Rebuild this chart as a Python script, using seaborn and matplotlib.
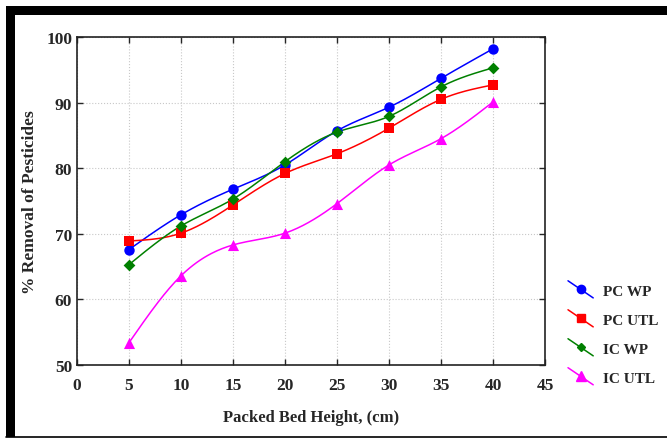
import numpy as np
import pandas as pd
import matplotlib
matplotlib.use("Agg")
import matplotlib.pyplot as plt
from matplotlib.lines import Line2D
from matplotlib.legend_handler import HandlerLine2D
import seaborn as sns

# --- data --------------------------------------------------------------------
height = [5, 10, 15, 20, 25, 30, 35, 40]
pc_wp = [67.6, 72.9, 76.8, 80.5, 85.7, 89.3, 93.7, 98.2]
pc_utl = [68.9, 70.1, 74.4, 79.2, 82.2, 86.1, 90.5, 92.7]
ic_wp = [65.3, 71.2, 75.3, 81.0, 85.5, 87.9, 92.4, 95.3]
ic_utl = [53.4, 63.6, 68.3, 70.1, 74.6, 80.5, 84.5, 90.1]
series_names = ["PC WP", "PC UTL", "IC WP", "IC UTL"]
x_ticks = [0, 5, 10, 15, 20, 25, 30, 35, 40, 45]
y_ticks = [50, 60, 70, 80, 90, 100]

colors = ["#0000ff", "#ff0000", "#008000", "#ff00ff"]
markers = ["o", "s", "D", "^"]
msizes = [7.5, 7.5, 6, 8]


def natural_spline(x, y, n=200):
    # plain natural cubic spline, used only to draw the smooth connecting curve
    x = np.asarray(x, float); y = np.asarray(y, float)
    k = len(x); h = np.diff(x)
    A = np.zeros((k, k)); b = np.zeros(k)
    A[0, 0] = A[-1, -1] = 1
    for i in range(1, k - 1):
        A[i, i - 1] = h[i - 1]; A[i, i] = 2 * (h[i - 1] + h[i]); A[i, i + 1] = h[i]
        b[i] = 6 * ((y[i + 1] - y[i]) / h[i] - (y[i] - y[i - 1]) / h[i - 1])
    M = np.linalg.solve(A, b)
    xs = np.linspace(x[0], x[-1], n)
    idx = np.clip(np.searchsorted(x, xs) - 1, 0, k - 2)
    x0, x1 = x[idx], x[idx + 1]; hh = x1 - x0
    ys = (M[idx] * (x1 - xs) ** 3 + M[idx + 1] * (xs - x0) ** 3) / (6 * hh) \
        + (y[idx] / hh - M[idx] * hh / 6) * (x1 - xs) \
        + (y[idx + 1] / hh - M[idx + 1] * hh / 6) * (xs - x0)
    return xs, ys


class DiagonalHandler(HandlerLine2D):
    def create_artists(self, legend, orig_handle, xdescent, ydescent,
                       width, height, fontsize, trans):
        line = Line2D([0 - xdescent, width - xdescent],
                      [height + 0.3 * height - ydescent, -0.3 * height - ydescent],
                      color=orig_handle.get_color(), lw=orig_handle.get_linewidth())
        mark = Line2D([width / 2 - xdescent], [height / 2 - ydescent],
                      marker=orig_handle.get_marker(), ms=orig_handle.get_markersize(),
                      color=orig_handle.get_color(), ls="none")
        line.set_transform(trans); mark.set_transform(trans)
        return [line, mark]


sns.set_theme(style="ticks")
plt.rcParams["font.family"] = ["Liberation Serif", "DejaVu Serif"]
plt.rcParams["font.weight"] = "bold"

fig = plt.figure(figsize=(6.67, 4.39), dpi=100)
ax = fig.add_axes([77 / 667, 1 - 366 / 439, 468 / 667, 328 / 439])

handles = []
for name, vals, c, m, ms in zip(series_names, [pc_wp, pc_utl, ic_wp, ic_utl],
                                colors, markers, msizes):
    xs, ys = natural_spline(height, vals)
    curve = pd.DataFrame({"x": xs, "y": ys})
    sns.lineplot(data=curve, x="x", y="y", color=c, lw=1.1, ax=ax, sort=False)
    pts = pd.DataFrame({"x": height, "y": vals})
    sns.scatterplot(data=pts, x="x", y="y", color=c, marker=m, s=ms ** 2,
                    edgecolor=c, linewidth=0, ax=ax, zorder=3)
    handles.append(Line2D([], [], color=c, marker=m, ms=ms - 1.5, lw=1.1))

ax.set_xlim(0, 45); ax.set_ylim(50, 100)
ax.set_xticks(x_ticks); ax.set_yticks(y_ticks)
ax.tick_params(direction="in", top=True, right=True, length=4, width=1,
               labelsize=12.5)
ax.tick_params(axis="x", pad=8.5)
ax.tick_params(axis="y", pad=3.5)
for lab in ax.get_xticklabels() + ax.get_yticklabels():
    lab.set_fontweight("bold")
ax.grid(True, ls=":", color="#c8c8c8", lw=0.8)
for s in ax.spines.values():
    s.set_linewidth(1.2); s.set_color("#222222")
ax.set_xlabel("Packed Bed Height, (cm)", fontsize=12, fontweight="bold")
ax.set_ylabel("% Removal of Pesticides", fontsize=12.5, fontweight="bold")
ax.xaxis.set_label_coords(0.5, -(410 - 366) / 328)
ax.yaxis.set_label_coords(-(77 - 38) / 468, 0.5)

leg = fig.legend(handles, series_names, loc="upper left",
                 bbox_to_anchor=(568 / 667, 1 - 285 / 439), frameon=False,
                 fontsize=11, handlelength=1.65, handletextpad=0.65,
                 labelspacing=1.0, borderaxespad=0, borderpad=0,
                 handler_map={Line2D: DiagonalHandler()})
for t in leg.get_texts():
    t.set_fontweight("bold")

# black frame around the figure
fig.add_artist(plt.Rectangle((6 / 667, 1 - 16 / 439), 661 / 667, 9 / 439,
                             transform=fig.transFigure, color="black", lw=0))
fig.add_artist(plt.Rectangle((6 / 667, 1 - 438 / 439), 9 / 667, 422 / 439,
                             transform=fig.transFigure, color="black", lw=0))
fig.add_artist(Line2D([6 / 667, 1], [1 - 437.5 / 439] * 2,
                      transform=fig.transFigure, color="black", lw=1.2))

fig.savefig("out.png", dpi=100)
